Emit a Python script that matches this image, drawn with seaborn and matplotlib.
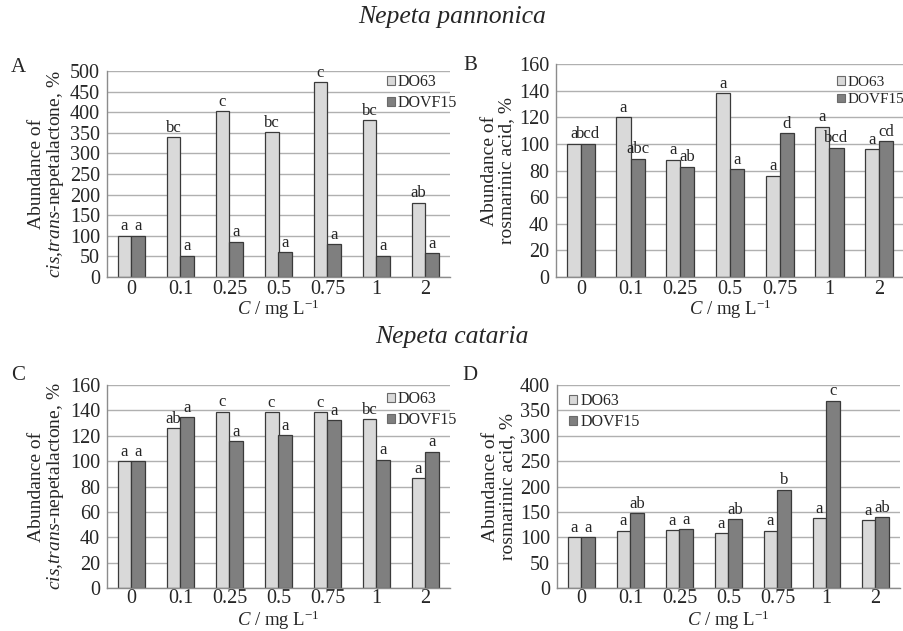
import matplotlib
matplotlib.use("Agg")
import matplotlib.pyplot as plt
import seaborn as sns
import pandas as pd
import numpy as np

sns.set_style("white")
plt.rcParams['font.family'] = ['Liberation Serif', 'DejaVu Serif']
plt.rcParams['mathtext.fontset'] = 'custom'
plt.rcParams['mathtext.rm'] = 'Liberation Serif'
plt.rcParams['mathtext.it'] = 'Liberation Serif:italic'

concentrations = ["0", "0.1", "0.25", "0.5", "0.75", "1", "2"]
series = ["DO63", "DOVF15"]

# Panel A: Nepeta pannonica, cis,trans-nepetalactone
a_do63 = [100, 340, 402, 352, 473, 380, 180]
a_dovf15 = [100, 52, 86, 60, 79, 52, 58]
a_lab_do63 = ["a", "bc", "c", "bc", "c", "bc", "ab"]
a_lab_dovf15 = ["a", "a", "a", "a", "a", "a", "a"]

# Panel B: Nepeta pannonica, rosmarinic acid
b_do63 = [100, 120, 88, 138, 76, 113, 96]
b_dovf15 = [100, 89, 83, 81, 108, 97, 102]
b_lab_do63 = ["a", "a", "a", "a", "a", "a", "a"]
b_lab_dovf15 = ["bcd", "abc", "ab", "a", "d", "bcd", "cd"]

# Panel C: Nepeta cataria, cis,trans-nepetalactone
c_do63 = [100, 126, 139, 138.5, 138.5, 133, 86.5]
c_dovf15 = [100, 134.5, 115.5, 120.5, 132.5, 101, 107.5]
c_lab_do63 = ["a", "ab", "c", "c", "c", "bc", "a"]
c_lab_dovf15 = ["a", "a", "a", "a", "a", "a", "a"]

# Panel D: Nepeta cataria, rosmarinic acid
d_do63 = [100, 113, 114, 108, 113, 137, 134]
d_dovf15 = [100, 147, 116, 135, 194, 369, 140]
d_lab_do63 = ["a", "a", "a", "a", "a", "a", "a"]
d_lab_dovf15 = ["a", "ab", "a", "ab", "b", "c", "ab"]

title_top = "Nepeta pannonica"
title_bottom = "Nepeta cataria"
ylab_nep = "Abundance of\n$\\mathit{cis}$,$\\mathit{trans}$-nepetalactone, %"
ylab_ros = "Abundance of\nrosmarinic acid, %"
xlab = "$\\mathit{C}$ / mg L$^{-1}$"

palette = {"DO63": "#d9d9d9", "DOVF15": "#7f7f7f"}
axis_col = "#8c8c8c"
grid_col = "#b0b0b0"

fig = plt.figure(figsize=(9.04, 6.31), dpi=100)
W, H = 904, 631

def make_ax(l, t, r, b):
    return fig.add_axes([l / W, 1 - b / H, (r - l) / W, (b - t) / H])

panels = [
    dict(box=(107, 71, 450, 277), v1=a_do63, v2=a_dovf15, l1=a_lab_do63, l2=a_lab_dovf15,
         ymax=500, step=50, ylabel=ylab_nep, letter="A", lpos=(18, 68), leg=(0.815, 0.985),
         xpad=-1, tpad=2, lfs=11.5),
    dict(box=(556, 64, 904, 277), v1=b_do63, v2=b_dovf15, l1=b_lab_do63, l2=b_lab_dovf15,
         ymax=160, step=20, ylabel=ylab_ros, letter="B", lpos=(470, 66), leg=(0.808, 0.945),
         xpad=-1, tpad=2, lfs=11),
    dict(box=(107, 385, 450, 588), v1=c_do63, v2=c_dovf15, l1=c_lab_do63, l2=c_lab_dovf15,
         ymax=160, step=20, ylabel=ylab_nep, letter="C", lpos=(18, 375), leg=(0.815, 0.97),
         xpad=0, tpad=1, lfs=11.5),
    dict(box=(557, 385, 900, 588), v1=d_do63, v2=d_dovf15, l1=d_lab_do63, l2=d_lab_dovf15,
         ymax=400, step=50, ylabel=ylab_ros, letter="D", lpos=(470, 375), leg=(0.035, 0.96),
         xpad=0, tpad=1, lfs=11.5),
]

for p in panels:
    ax = make_ax(*p["box"])
    df = pd.DataFrame({
        "C": concentrations * 2,
        "value": list(p["v1"]) + list(p["v2"]),
        "series": [series[0]] * len(concentrations) + [series[1]] * len(concentrations),
    })
    sns.barplot(data=df, x="C", y="value", hue="series", order=concentrations,
                hue_order=series, palette=palette, width=0.57, edgecolor="#3a3a3a",
                linewidth=0.9, ax=ax, legend=True, saturation=1)
    for cont, labs in zip(ax.containers, [p["l1"], p["l2"]]):
        ax.bar_label(cont, labels=labs, padding=1, fontsize=12)
    ax.set_xlim(-0.5, 6.5)
    ax.set_ylim(0, p["ymax"])
    ax.set_yticks(np.arange(0, p["ymax"] + 1, p["step"]))
    ax.yaxis.grid(True, color=grid_col, linewidth=1.0)
    ax.set_axisbelow(True)
    for s in ["top", "right"]:
        ax.spines[s].set_visible(False)
    for s in ["left", "bottom"]:
        ax.spines[s].set_color(axis_col)
        ax.spines[s].set_linewidth(1.0)
    ax.set_xticks(np.arange(-0.5, 7, 1), minor=True)
    ax.tick_params(axis="x", which="major", length=0, labelsize=14.5, pad=p["tpad"])
    ax.tick_params(axis="x", which="minor", length=5, color=axis_col, width=1.0, direction="out")
    ax.tick_params(axis="y", length=4, color=axis_col, width=1.0, direction="out",
                   labelsize=14.5, pad=1)
    ax.set_xlabel(xlab, fontsize=13.5, labelpad=p["xpad"])
    ax.set_ylabel(p["ylabel"], fontsize=14, labelpad=3, linespacing=1.0)
    leg = ax.legend(loc="upper left", bbox_to_anchor=p["leg"], frameon=False,
                    fontsize=p["lfs"], handlelength=0.5, handleheight=0.5,
                    handletextpad=0.2, labelspacing=0.3, borderpad=0, borderaxespad=0)
    for h in leg.legend_handles:
        h.set_edgecolor("#6a6a6a")
        h.set_linewidth(0.8)
    lx, ly = p["lpos"]
    fig.text(lx / W, 1 - ly / H, p["letter"], fontsize=15, ha="center", va="center")

fig.text(452 / W, 1 - 17 / H, title_top, fontsize=18.5, style="italic", ha="center", va="center")
fig.text(452 / W, 1 - 337 / H, title_bottom, fontsize=18.5, style="italic", ha="center", va="center")

fig.savefig("out.png", dpi=100)
